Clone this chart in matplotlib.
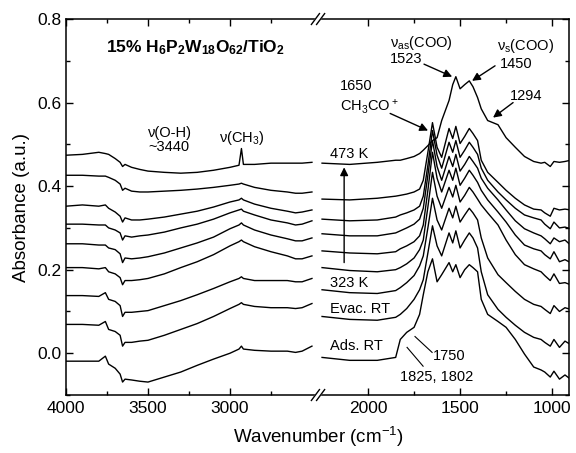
import matplotlib
matplotlib.use('Agg')
import matplotlib.pyplot as plt
from matplotlib.lines import Line2D

plt.rcParams['font.family'] = ['Liberation Sans', 'DejaVu Sans']
plt.rcParams['mathtext.fontset'] = 'custom'
plt.rcParams['mathtext.rm'] = 'Liberation Sans'
plt.rcParams['mathtext.it'] = 'Liberation Sans:italic'
plt.rcParams['mathtext.bf'] = 'Liberation Sans:bold'

# wavenumber grids (cm-1) of the two panels
wn_left = [4000, 3900, 3800, 3760, 3740, 3700, 3670, 3655, 3640, 3600, 3550, 3500, 3400,
           3300, 3200, 3100, 3000, 2945, 2930, 2918, 2850, 2750, 2650, 2600, 2560, 2500]
wn_right = [2250, 2100, 1950, 1850, 1825, 1790, 1750, 1720, 1700, 1675, 1650, 1625, 1600,
            1560, 1540, 1523, 1500, 1475, 1450, 1430, 1405, 1385, 1350, 1294, 1250, 1200,
            1150, 1100, 1060, 1040, 1010, 990, 960, 930, 900]

# spectra, top to bottom
k473_left = [0.474, 0.476, 0.481, 0.478, 0.476, 0.466, 0.457, 0.447, 0.452, 0.445, 0.440, 0.436, 0.433,
             0.431, 0.433, 0.438, 0.445, 0.450, 0.490, 0.452, 0.452, 0.455, 0.455, 0.455, 0.455, 0.457]
k473_right = [0.455, 0.452, 0.457, 0.462, 0.462, 0.466, 0.471, 0.478, 0.486, 0.497, 0.509, 0.516, 0.557,
              0.605, 0.643, 0.662, 0.633, 0.643, 0.652, 0.638, 0.612, 0.585, 0.557, 0.547, 0.516, 0.493,
              0.471, 0.459, 0.455, 0.457, 0.447, 0.459, 0.457, 0.459, 0.462]

k448_left = [0.426, 0.426, 0.424, 0.424, 0.421, 0.414, 0.405, 0.390, 0.395, 0.388, 0.386, 0.386, 0.388,
             0.390, 0.393, 0.397, 0.402, 0.405, 0.407, 0.405, 0.397, 0.390, 0.386, 0.383, 0.383, 0.386]
k448_right = [0.369, 0.367, 0.371, 0.376, 0.378, 0.381, 0.386, 0.393, 0.414, 0.481, 0.552, 0.493, 0.469,
              0.538, 0.514, 0.543, 0.502, 0.519, 0.538, 0.526, 0.509, 0.462, 0.433, 0.409, 0.390, 0.371,
              0.355, 0.345, 0.343, 0.336, 0.328, 0.347, 0.343, 0.345, 0.343]

k423_left = [0.352, 0.355, 0.352, 0.355, 0.347, 0.338, 0.328, 0.314, 0.324, 0.319, 0.319, 0.321, 0.326,
             0.333, 0.340, 0.350, 0.362, 0.367, 0.371, 0.367, 0.357, 0.347, 0.340, 0.336, 0.338, 0.343]
k423_right = [0.321, 0.317, 0.319, 0.326, 0.331, 0.336, 0.343, 0.352, 0.376, 0.450, 0.533, 0.474, 0.443,
              0.505, 0.481, 0.509, 0.469, 0.486, 0.505, 0.493, 0.476, 0.443, 0.414, 0.386, 0.367, 0.347,
              0.331, 0.324, 0.319, 0.309, 0.298, 0.314, 0.300, 0.302, 0.298]

k398_left = [0.309, 0.309, 0.307, 0.307, 0.300, 0.295, 0.288, 0.271, 0.281, 0.278, 0.281, 0.283, 0.290,
             0.300, 0.309, 0.321, 0.336, 0.343, 0.345, 0.340, 0.331, 0.319, 0.312, 0.307, 0.309, 0.317]
k398_right = [0.286, 0.281, 0.281, 0.288, 0.293, 0.300, 0.309, 0.321, 0.347, 0.426, 0.509, 0.447, 0.414,
              0.471, 0.447, 0.476, 0.436, 0.452, 0.471, 0.459, 0.443, 0.419, 0.395, 0.367, 0.343, 0.317,
              0.298, 0.288, 0.281, 0.274, 0.262, 0.276, 0.267, 0.271, 0.259]

k373_left = [0.262, 0.262, 0.259, 0.259, 0.252, 0.248, 0.238, 0.217, 0.228, 0.226, 0.228, 0.231, 0.240,
             0.252, 0.264, 0.278, 0.298, 0.307, 0.312, 0.307, 0.295, 0.283, 0.274, 0.269, 0.269, 0.276]
k373_right = [0.245, 0.240, 0.238, 0.243, 0.250, 0.257, 0.267, 0.281, 0.307, 0.390, 0.481, 0.419, 0.386,
              0.438, 0.414, 0.443, 0.402, 0.419, 0.438, 0.426, 0.409, 0.390, 0.367, 0.338, 0.314, 0.283,
              0.259, 0.250, 0.245, 0.236, 0.226, 0.243, 0.219, 0.224, 0.217]

k348_left = [0.205, 0.205, 0.202, 0.205, 0.195, 0.190, 0.181, 0.164, 0.174, 0.174, 0.176, 0.179, 0.190,
             0.205, 0.219, 0.236, 0.257, 0.267, 0.271, 0.267, 0.255, 0.243, 0.233, 0.226, 0.226, 0.233]
k348_right = [0.205, 0.198, 0.195, 0.200, 0.205, 0.214, 0.228, 0.248, 0.271, 0.350, 0.433, 0.376, 0.347,
              0.397, 0.374, 0.402, 0.362, 0.378, 0.397, 0.386, 0.369, 0.355, 0.336, 0.307, 0.271, 0.236,
              0.212, 0.202, 0.195, 0.186, 0.174, 0.190, 0.167, 0.169, 0.164]

k323_left = [0.138, 0.138, 0.136, 0.145, 0.129, 0.124, 0.114, 0.088, 0.098, 0.098, 0.100, 0.102, 0.114,
             0.126, 0.140, 0.155, 0.171, 0.179, 0.183, 0.179, 0.174, 0.174, 0.174, 0.171, 0.171, 0.179]
k323_right = [0.152, 0.145, 0.143, 0.150, 0.157, 0.169, 0.186, 0.209, 0.233, 0.300, 0.371, 0.319, 0.295,
              0.347, 0.324, 0.352, 0.314, 0.331, 0.347, 0.336, 0.319, 0.276, 0.228, 0.188, 0.169, 0.148,
              0.129, 0.117, 0.112, 0.105, 0.095, 0.114, 0.100, 0.109, 0.105]

evac_left = [0.069, 0.069, 0.067, 0.076, 0.057, 0.052, 0.043, 0.017, 0.026, 0.026, 0.029, 0.031, 0.043,
             0.057, 0.071, 0.088, 0.107, 0.117, 0.121, 0.117, 0.112, 0.109, 0.109, 0.107, 0.109, 0.119]
evac_right = [0.088, 0.081, 0.079, 0.086, 0.093, 0.107, 0.129, 0.152, 0.176, 0.240, 0.305, 0.257, 0.233,
              0.288, 0.264, 0.293, 0.252, 0.271, 0.288, 0.276, 0.252, 0.195, 0.140, 0.105, 0.086, 0.067,
              0.050, 0.038, 0.033, 0.026, 0.017, 0.033, 0.014, 0.029, 0.021]

ads_left = [-0.019, -0.019, -0.019, -0.007, -0.026, -0.036, -0.050, -0.069, -0.062, -0.064, -0.067, -0.069, -0.057,
            -0.045, -0.029, -0.014, 0.000, 0.010, 0.017, 0.010, 0.007, 0.005, 0.005, 0.002, 0.005, 0.017]
ads_right = [-0.010, -0.017, -0.017, -0.010, 0.033, 0.050, 0.062, 0.093, 0.140, 0.195, 0.226, 0.171, 0.188,
             0.217, 0.195, 0.212, 0.181, 0.200, 0.212, 0.205, 0.195, 0.129, 0.093, 0.076, 0.062, 0.033,
             -0.002, -0.033, -0.040, -0.045, -0.057, -0.043, -0.062, -0.052, -0.062]

spectra_left = [k473_left, k448_left, k423_left, k398_left, k373_left, k348_left, k323_left, evac_left, ads_left]
spectra_right = [k473_right, k448_right, k423_right, k398_right, k373_right, k348_right, k323_right, evac_right, ads_right]

fig = plt.figure(figsize=(5.76, 4.53), dpi=100)
ax_l = fig.add_axes([0.1146, 0.128, 0.4375, 0.830])
ax_r = fig.add_axes([0.5521, 0.128, 0.4358, 0.830])

for yl, yr in zip(spectra_left, spectra_right):
    ax_l.plot(wn_left, yl, color='k', lw=1.0)
    ax_r.plot(wn_right, yr, color='k', lw=1.0)

ax_l.set_xlim(4000, 2463)
ax_r.set_xlim(2272, 908)
for ax in (ax_l, ax_r):
    ax.set_ylim(-0.1, 0.8)
    for s in ax.spines.values():
        s.set_linewidth(1.1)
    ax.tick_params(which='both', direction='in', top=True, labelsize=12.5, width=1.0, pad=4)
    ax.tick_params(which='major', length=5)
    ax.tick_params(which='minor', length=3)

ax_l.set_xticks([4000, 3500, 3000])
ax_l.set_xticks([3750, 3250, 2750], minor=True)
ax_l.set_yticks([0.0, 0.2, 0.4, 0.6, 0.8])
ax_l.set_yticklabels(['0.0', '0.2', '0.4', '0.6', '0.8'])
ax_l.set_yticks([-0.1, 0.1, 0.3, 0.5, 0.7], minor=True)
ax_l.spines['right'].set_visible(False)
ax_l.tick_params(axis='y', which='both', right=False, pad=3)

ax_r.set_xticks([2000, 1500, 1000])
ax_r.set_xticks([1750, 1250], minor=True)
ax_r.set_yticks([0.0, 0.2, 0.4, 0.6, 0.8])
ax_r.set_yticks([-0.1, 0.1, 0.3, 0.5, 0.7], minor=True)
ax_r.spines['left'].set_visible(False)
ax_r.tick_params(axis='y', which='both', left=False, right=True, labelleft=False)

# axis break marks
xb = 0.5521
for yb in (0.128, 0.958):
    fig.add_artist(Line2D([xb - 0.007, xb + 0.007], [yb - 0.012, yb + 0.012], color='w', lw=4,
                          transform=fig.transFigure))
    for dx in (-0.0045, 0.0045):
        fig.add_artist(Line2D([xb + dx - 0.007, xb + dx + 0.007], [yb - 0.012, yb + 0.012], color='k',
                              lw=1.0, transform=fig.transFigure))

fig.text(22 / 576, 1 - 207 / 453, 'Absorbance (a.u.)', rotation=90, ha='center', va='center', fontsize=13.5)
fig.text(318 / 576, 1 - 437 / 453, 'Wavenumber (cm$^{-1}$)', ha='center', va='center', fontsize=13.5)

# labels, left panel
ax_l.text(3756, 0.731, r'15% H$_\mathbf{6}$P$_\mathbf{2}$W$_\mathbf{18}$O$_\mathbf{62}$/TiO$_\mathbf{2}$',
          fontsize=12.5, fontweight='bold', ha='left', va='center')
ax_l.text(3500, 0.526, 'ν(O-H)', fontsize=10.5, ha='left', va='center')
ax_l.text(3500, 0.493, '~3440', fontsize=10.5, ha='left', va='center')
ax_l.text(2927, 0.516, 'ν(CH$_3$)', fontsize=10.5, ha='center', va='center')

# labels, right panel
fs = 10.5
ax_r.text(1880, 0.743, r'ν$_{\mathrm{as}}$(COO)', fontsize=fs, ha='left', va='center')
ax_r.text(1880, 0.704, '1523', fontsize=fs, ha='left', va='center')
ax_r.text(1299, 0.735, r'ν$_{\mathrm{s}}$(COO)', fontsize=fs, ha='left', va='center')
ax_r.text(1283, 0.693, '1450', fontsize=fs, ha='left', va='center')
ax_r.text(2152, 0.640, '1650', fontsize=fs, ha='left', va='center')
ax_r.text(2152, 0.590, 'CH$_3$CO$^+$', fontsize=fs, ha='left', va='center')
ax_r.text(1228, 0.616, '1294', fontsize=fs, ha='left', va='center')
ax_r.text(2207, 0.478, '473 K', fontsize=fs, ha='left', va='center')
ax_r.text(2207, 0.169, '323 K', fontsize=fs, ha='left', va='center')
ax_r.text(2207, 0.107, 'Evac. RT', fontsize=fs, ha='left', va='center')
ax_r.text(2207, 0.017, 'Ads. RT', fontsize=fs, ha='left', va='center')
ax_r.text(1647, -0.007, '1750', fontsize=fs, ha='left', va='center')
ax_r.text(1826, -0.057, '1825, 1802', fontsize=fs, ha='left', va='center')

arrow = dict(arrowstyle='-|>', color='k', lw=1.0, mutation_scale=12, shrinkA=0, shrinkB=0)
ax_r.annotate('', xy=(1543, 0.662), xytext=(1696, 0.692), arrowprops=arrow)
ax_r.annotate('', xy=(1435, 0.652), xytext=(1310, 0.688), arrowprops=arrow)
ax_r.annotate('', xy=(1674, 0.533), xytext=(1880, 0.574), arrowprops=arrow)
ax_r.annotate('', xy=(1321, 0.564), xytext=(1212, 0.600), arrowprops=arrow)
ax_r.annotate('', xy=(2130, 0.445), xytext=(2130, 0.217), arrowprops=arrow)

ax_r.plot([1745, 1652], [0.040, 0.002], color='k', lw=0.8)
ax_r.plot([1788, 1701], [0.014, -0.031], color='k', lw=0.8)

plt.savefig('out.png', dpi=100)
